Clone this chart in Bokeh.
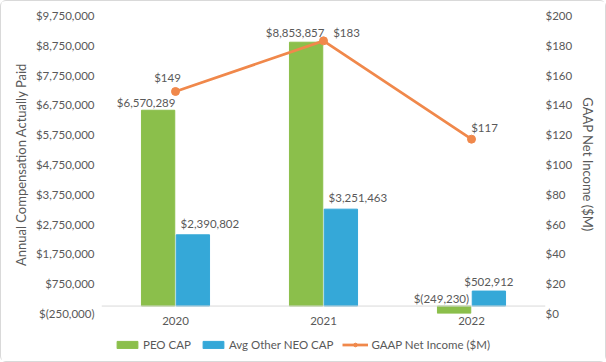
from bokeh.plotting import figure
from bokeh.layouts import column
from bokeh.models import (Range1d, LinearAxis, FixedTicker, Legend, LegendItem,
                          Span, ColumnDataSource, FactorRange)
from bokeh.transform import dodge
from bokeh.core.properties import value
from bokeh.embed import file_html
from bokeh.resources import INLINE

# ---- data ----
years = ["2020", "2021", "2022"]
peo_cap = [6570289, 8853857, -249230]
neo_cap = [2390802, 3251463, 502912]
net_income = [149, 183, 117]
left_ticks = list(range(-250000, 9750001, 1000000))
right_ticks = list(range(0, 201, 20))

# ---- label placement (style, pixels) ----
peo_dx = [-12, -11, 15]
peo_dy = [-8, -10, -8]
peo_align = ["center", "center", "right"]
neo_dx = [17, 17, 0]
neo_dy = [-11, -12, -10]
ni_dx = [-8, 23, 13]
ni_dy = [-14, -8, -12]

GREEN = "#8BBF4B"
BLUE = "#35A8D8"
ORANGE = "#F0884B"
TXT = "#595959"
FONT = "Lato"


def money(v):
    return f"$({abs(v):,.0f})" if v < 0 else f"${v:,.0f}"


src = ColumnDataSource(dict(
    year=years, peo=peo_cap, neo=neo_cap, ni=net_income,
    peo_lbl=[money(v) for v in peo_cap],
    neo_lbl=[money(v) for v in neo_cap],
    ni_lbl=[money(v) for v in net_income],
    peo_y=[max(v, 0) for v in peo_cap],
    peo_dx=peo_dx, peo_dy=peo_dy, peo_align=peo_align,
    neo_dx=neo_dx, neo_dy=neo_dy, ni_dx=ni_dx, ni_dy=ni_dy,
))

p = figure(x_range=FactorRange(*years, range_padding=0),
           y_range=Range1d(left_ticks[0], left_ticks[-1]),
           width=604, height=331, output_backend="svg", toolbar_location=None,
           min_border_left=100, min_border_right=60, min_border_top=14,
           min_border_bottom=19)
p.outline_line_color = None
p.grid.grid_line_color = None
p.background_fill_color = "white"
p.border_fill_color = "white"

p.extra_y_ranges = {"ni": Range1d(right_ticks[0], right_ticks[-1])}

# left axis
ya = p.yaxis[0]
ya.ticker = FixedTicker(ticks=left_ticks)
ya.major_label_overrides = {t: money(t) for t in left_ticks}
ya.axis_label = "Annual Compensation Actually Paid"
# right axis
ra = LinearAxis(y_range_name="ni", ticker=FixedTicker(ticks=right_ticks),
                axis_label="GAAP Net Income ($M)")
ra.major_label_overrides = {t: money(t) for t in right_ticks}
p.add_layout(ra, "right")

for ax in [ya, ra, p.xaxis[0]]:
    ax.axis_line_color = None
    ax.major_tick_line_color = None
    ax.minor_tick_line_color = None
    ax.major_tick_out = 0
    ax.major_tick_in = 0
    ax.major_label_text_font = FONT
    ax.major_label_text_font_size = "11.5px"
    ax.major_label_text_color = TXT
    ax.axis_label_text_font = FONT
    ax.axis_label_text_font_size = "13px"
    ax.axis_label_text_font_style = "normal"
    ax.axis_label_text_color = TXT
ya.major_label_standoff = 7
ya.axis_label_standoff = 4
ra.major_label_standoff = 0
ra.axis_label_standoff = 5
p.xaxis.major_label_standoff = 3

p.add_layout(Span(location=0, dimension="width", line_color="#D9D9D9", line_width=1))

p.vbar(x=dodge("year", -0.1175, range=p.x_range), top="peo", bottom=0,
       width=0.225, color=GREEN, source=src)
p.vbar(x=dodge("year", 0.1175, range=p.x_range), top="neo", bottom=0,
       width=0.225, color=BLUE, source=src)
p.line(x="year", y="ni", y_range_name="ni", line_color=ORANGE,
       line_width=2.75, source=src)
p.scatter(x="year", y="ni", y_range_name="ni", size=8, fill_color=ORANGE,
          line_color=ORANGE, source=src)

common = dict(text_font=value(FONT), text_font_size="11.5px", text_color=TXT,
              text_baseline="middle", source=src)
p.text(x=dodge("year", -0.1175, range=p.x_range), y="peo_y", text="peo_lbl",
       x_offset="peo_dx", y_offset="peo_dy", text_align="peo_align", **common)
p.text(x=dodge("year", 0.1175, range=p.x_range), y="neo", text="neo_lbl",
       x_offset="neo_dx", y_offset="neo_dy", text_align="center", **common)
p.text(x="year", y="ni", y_range_name="ni", text="ni_lbl",
       x_offset="ni_dx", y_offset="ni_dy", text_align="center", **common)

# ---- legend strip (hidden copies of the series supply the legend swatches) ----
pl = figure(x_range=p.x_range, y_range=Range1d(0, 1), width=604, height=29,
            output_backend="svg", toolbar_location=None,
            x_axis_type=None, y_axis_type=None,
            min_border_left=0, min_border_right=0, min_border_top=0,
            min_border_bottom=0)
pl.outline_line_color = None
pl.grid.grid_line_color = None
l1 = pl.vbar(x="year", top="peo", width=0.225, color=GREEN, source=src, visible=False)
l2 = pl.vbar(x="year", top="neo", width=0.225, color=BLUE, source=src, visible=False)
l3 = pl.line(x="year", y="ni", line_color=ORANGE, line_width=2.75, source=src, visible=False)
l4 = pl.scatter(x="year", y="ni", size=8, fill_color=ORANGE, line_color=ORANGE,
                source=src, visible=False)

legend = Legend(items=[LegendItem(label="PEO CAP", renderers=[l1]),
                       LegendItem(label="Avg Other NEO CAP", renderers=[l2]),
                       LegendItem(label="GAAP Net Income ($M)", renderers=[l3, l4])],
                orientation="horizontal", location=(13, 10),
                label_text_font=FONT, label_text_font_size="11.5px",
                label_text_color=TXT, glyph_width=26, glyph_height=9,
                label_height=14, label_standoff=3, spacing=9, padding=4, margin=0,
                border_line_color=None, background_fill_alpha=0,
                inactive_fill_alpha=0)
pl.add_layout(legend)

layout = column(p, pl, spacing=0,
                styles={"border": "1px solid #D9D9D9", "border-radius": "6px"})

open("out.html", "w").write(file_html(layout, INLINE))
